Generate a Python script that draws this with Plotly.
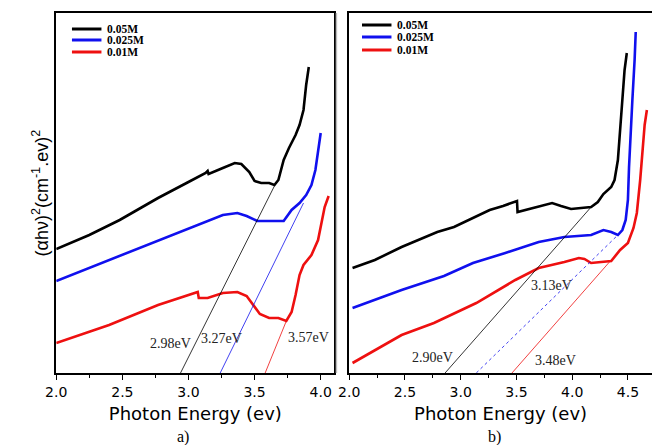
import plotly.graph_objects as go

W, H = 652, 445

# ---------- data (arbitrary y units) ----------
labels = ["0.05M", "0.025M", "0.01M"]
colors = ["#000000", "#1010ee", "#ee1010"]

# panel a
a_black_x = [2.00, 2.25, 2.48, 2.77, 3.00, 3.13, 3.145, 3.152, 3.26, 3.35, 3.40, 3.46, 3.50, 3.55, 3.61, 3.65, 3.68, 3.72, 3.76, 3.81, 3.84, 3.87, 3.89, 3.91]
a_black_y = [124, 138, 153, 175, 191, 200, 202, 199, 205, 210, 209, 201, 192, 190, 190, 188, 193, 213, 225, 238, 248, 263, 288, 306]
a_blue_x = [2.00, 2.40, 2.77, 3.07, 3.17, 3.26, 3.37, 3.44, 3.52, 3.63, 3.72, 3.78, 3.84, 3.89, 3.93, 3.96, 3.98, 4.00]
a_blue_y = [92, 113, 133, 148, 154, 158, 160, 157, 152, 152, 152, 163, 170, 178, 188, 203, 223, 240]
a_red_x = [2.00, 2.40, 2.77, 3.04, 3.07, 3.078, 3.145, 3.26, 3.37, 3.44, 3.49, 3.54, 3.61, 3.68, 3.74, 3.78, 3.81, 3.84, 3.87, 3.93, 3.98, 4.007, 4.03, 4.06]
a_red_y = [30, 48, 68, 80, 81, 75, 75, 80, 81, 77, 68, 59, 55, 55, 52, 61, 78, 98, 108, 118, 133, 151, 166, 177]
a_fit_x = [[2.94, 3.65], [3.24, 3.87], [3.58, 3.74]]
a_fit_y = [[0, 187], [0, 170], [0, 52]]
a_gap_text = ["2.98eV", "3.27eV", "3.57eV"]
a_gap_x = [2.862, 3.249, 3.911]
a_gap_y = [30, 35, 36]

# panel b
b_black_x = [2.03, 2.23, 2.47, 2.67, 2.79, 2.94, 3.05, 3.26, 3.38, 3.505, 3.51, 3.64, 3.82, 3.90, 3.99, 4.08, 4.17, 4.23, 4.28, 4.35, 4.38, 4.41, 4.43, 4.45, 4.47, 4.49]
b_black_y = [105, 113, 126, 135, 141, 146, 152, 163, 167, 172, 161, 165, 170, 167, 164, 165, 166, 171, 179, 186, 193, 213, 240, 273, 303, 320]
b_blue_x = [2.03, 2.47, 2.85, 3.11, 3.40, 3.70, 3.93, 4.06, 4.17, 4.28, 4.35, 4.41, 4.45, 4.48, 4.50, 4.51, 4.53, 4.54, 4.56, 4.57]
b_blue_y = [65, 83, 97, 110, 120, 131, 136, 137, 138, 143, 141, 138, 143, 153, 173, 206, 243, 273, 313, 341]
b_red_x = [2.03, 2.47, 2.76, 3.14, 3.49, 3.70, 3.93, 4.06, 4.11, 4.17, 4.26, 4.35, 4.43, 4.50, 4.55, 4.58, 4.61, 4.63, 4.65, 4.67]
b_red_y = [10, 38, 50, 70, 93, 105, 111, 115, 114, 110, 111, 112, 123, 130, 145, 160, 193, 223, 248, 263]
b_fit_x = [[2.86, 4.17], [3.14, 4.41], [3.46, 4.35]]
b_fit_y = [[0, 166], [0, 138], [0, 113]]
b_gap_text = ["2.90eV", "3.13eV", "3.48eV"]
b_gap_x = [2.75, 3.817, 3.852]
b_gap_y = [16, 88, 13]

tick_vals = [2.0, 2.5, 3.0, 3.5, 4.0, 4.5]
tick_text = ["2.0", "2.5", "3.0", "3.5", "4.0", "4.5"]

# ---------- figure ----------
def px(x):
    return x / W

def py(y):
    return 1 - y / H

fig = go.Figure()

panels = [
    ("x", "y", [(a_black_x, a_black_y), (a_blue_x, a_blue_y), (a_red_x, a_red_y)], a_fit_x, a_fit_y,
     a_gap_text, a_gap_x, a_gap_y),
    ("x2", "y2", [(b_black_x, b_black_y), (b_blue_x, b_blue_y), (b_red_x, b_red_y)], b_fit_x, b_fit_y,
     b_gap_text, b_gap_x, b_gap_y),
]

annotations = []
for xa, ya, curves, fx, fy, gt, gx, gy in panels:
    for i, (cx, cy) in enumerate(curves):
        fig.add_trace(go.Scatter(x=cx, y=cy, mode="lines", name=labels[i], xaxis=xa, yaxis=ya,
                                 line=dict(color=colors[i], width=2.6), showlegend=False))
    for i in range(3):
        dash = "dot" if (xa == "x2" and i == 1) else "solid"
        fig.add_trace(go.Scatter(x=fx[i], y=fy[i], mode="lines", xaxis=xa, yaxis=ya,
                                 line=dict(color=colors[i], width=0.8, dash=dash), showlegend=False))
    for t, x, y in zip(gt, gx, gy):
        annotations.append(dict(text=t, x=x, y=y, xref=xa, yref=ya, showarrow=False,
                                xanchor="center", yanchor="middle",
                                font=dict(family="Liberation Serif", size=14, color="#222")))

ydom = [py(373), py(13)]
axis_common = dict(showline=True, linecolor="black", linewidth=2, ticks="outside", ticklen=5,
                   tickwidth=1.2, tickcolor="black", showgrid=False, zeroline=False,
                   tickvals=tick_vals, ticktext=tick_text,
                   tickfont=dict(family="DejaVu Sans", size=14, color="black"),
                   minor=dict(dtick=0.25, tick0=2.0, ticks="outside", ticklen=3, tickcolor="black", tickwidth=1),
                   title=dict(text="Photon Energy (ev)", font=dict(family="DejaVu Sans", size=18, color="black"),
                              standoff=9),
                   mirror=True)

fig.update_layout(
    width=W, height=H, margin=dict(l=0, r=0, t=0, b=0),
    paper_bgcolor="white", plot_bgcolor="white",
    xaxis=dict(axis_common, domain=[px(46), px(329)], range=[2.0, 4.104], anchor="y"),
    xaxis2=dict(axis_common, domain=[px(344), 1.0], range=[2.0, 4.716], anchor="y2"),
    yaxis=dict(domain=ydom, range=[0, 360], showline=True, linecolor="black", linewidth=2,
               mirror=True, showticklabels=False, ticks="", showgrid=False, zeroline=False, anchor="x"),
    yaxis2=dict(domain=ydom, range=[0, 360], showline=True, linecolor="black", linewidth=2,
                mirror=False, showticklabels=False, ticks="", showgrid=False, zeroline=False, anchor="x2"),
)

# y axis title
annotations.append(dict(text="(αhν)<sup>2</sup>(cm<sup>-1</sup>.ev)<sup>2</sup>", x=px(30), y=py(193),
                        xref="paper", yref="paper", textangle=-90, showarrow=False,
                        xanchor="center", yanchor="middle",
                        font=dict(family="Liberation Sans", size=18, color="black")))
# panel labels
annotations.append(dict(text="a)", x=px(175), y=py(437), xref="paper", yref="paper", showarrow=False,
                        xanchor="center", yanchor="middle",
                        font=dict(family="Liberation Serif", size=16, color="black")))
annotations.append(dict(text="b)", x=px(492), y=py(437), xref="paper", yref="paper", showarrow=False,
                        xanchor="center", yanchor="middle",
                        font=dict(family="Liberation Serif", size=16, color="black")))

shapes = []
# manual legends
leg_pos = [(62, 97, [29, 40, 52]), (357, 392, [25, 37, 50])]
for x0, xt, rows in leg_pos:
    for i, yy in enumerate(rows):
        shapes.append(dict(type="line", xref="paper", yref="paper", x0=px(x0), x1=px(x0 + 30),
                           y0=py(yy), y1=py(yy), line=dict(color=colors[i], width=3)))
        annotations.append(dict(text="<b>%s</b>" % labels[i], x=px(xt), y=py(yy), xref="paper", yref="paper",
                                xanchor="left", yanchor="middle", showarrow=False, borderpad=0,
                                font=dict(family="Liberation Serif", size=11.5, color="black")))
# separator
shapes.append(dict(type="line", xref="paper", yref="paper", x0=px(331), x1=px(331), y0=py(373), y1=py(13),
                   line=dict(color="#bbbbbb", width=1.5)))

fig.update_layout(annotations=annotations, shapes=shapes)
fig.write_html("out.html")
